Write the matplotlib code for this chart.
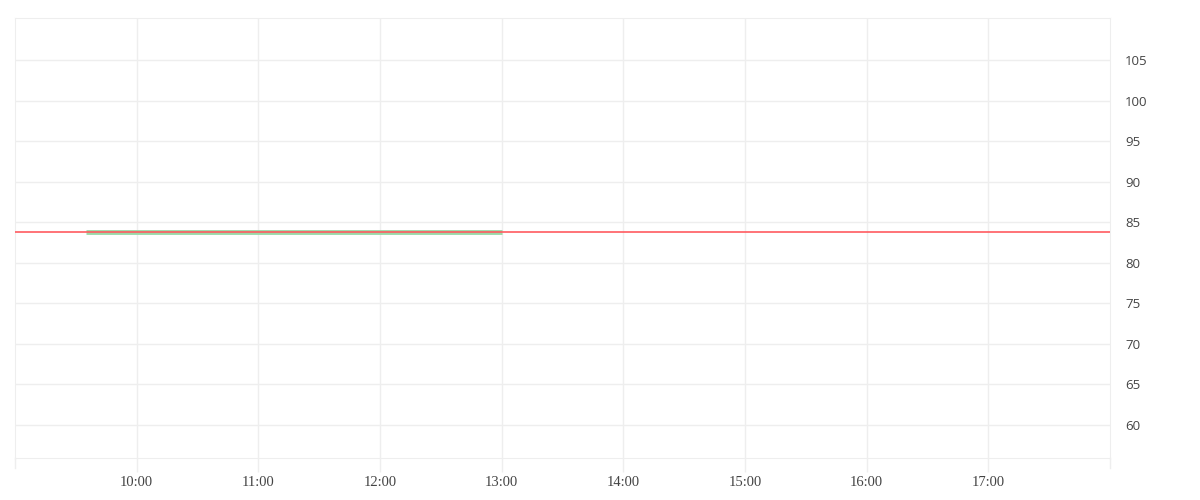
import matplotlib
matplotlib.use("Agg")
import matplotlib.pyplot as plt
import matplotlib.dates as mdates
import datetime as dt

# Data
times = ["09:35", "10:00", "11:00", "12:00", "13:00"]
prices = [83.8, 83.8, 83.8, 83.8, 83.8]
ref_price = 83.8
x_ticks = ["10:00", "11:00", "12:00", "13:00", "14:00", "15:00", "16:00", "17:00"]
y_ticks = [60, 65, 70, 75, 80, 85, 90, 95, 100, 105]
x_start, x_end = "09:00", "18:00"
y_min, y_max = 55.93, 110.18

def t(s):
    h, m = map(int, s.split(":"))
    return dt.datetime(2024, 1, 2, h, m)

fig = plt.figure(figsize=(12, 5), dpi=100)
ax = fig.add_axes([15/1200, 1 - 458/500, (1110 - 15)/1200, (458 - 18)/500])

grid_c = "#eeeeee"
ax.set_xlim(t(x_start), t(x_end))
ax.set_ylim(y_min, y_max)

ax.set_xticks([t(s) for s in x_ticks])
ax.set_xticklabels(x_ticks, family=["Liberation Serif", "DejaVu Serif"], fontsize=10.5, color="#444444")
ax.set_yticks(y_ticks)
ax.set_yticklabels([str(v) for v in y_ticks], family=["Open Sans", "DejaVu Sans"], fontsize=9.5, color="#444444")
ax.yaxis.tick_right()

ax.grid(True, color=grid_c, linewidth=1)
ax.set_axisbelow(True)
ax.tick_params(axis="x", length=10, color=grid_c, width=1, pad=3)
ax.tick_params(axis="y", length=0, pad=11)

for side in ["top", "bottom", "left", "right"]:
    ax.spines[side].set_color(grid_c)

# extend left/right boundary lines down like tick marks
for xs in [x_start, x_end]:
    ax.plot([t(xs), t(xs)], [y_min, y_min - 10/8.111], color=grid_c, lw=1, clip_on=False)

ax.plot([t(s) for s in times], prices, color="#9bd8a8", lw=3.5, solid_capstyle="butt", zorder=3)
ax.axhline(ref_price, color="#ff5b60", lw=1.2, zorder=4)

fig.savefig("out.png", dpi=100, facecolor="white")
